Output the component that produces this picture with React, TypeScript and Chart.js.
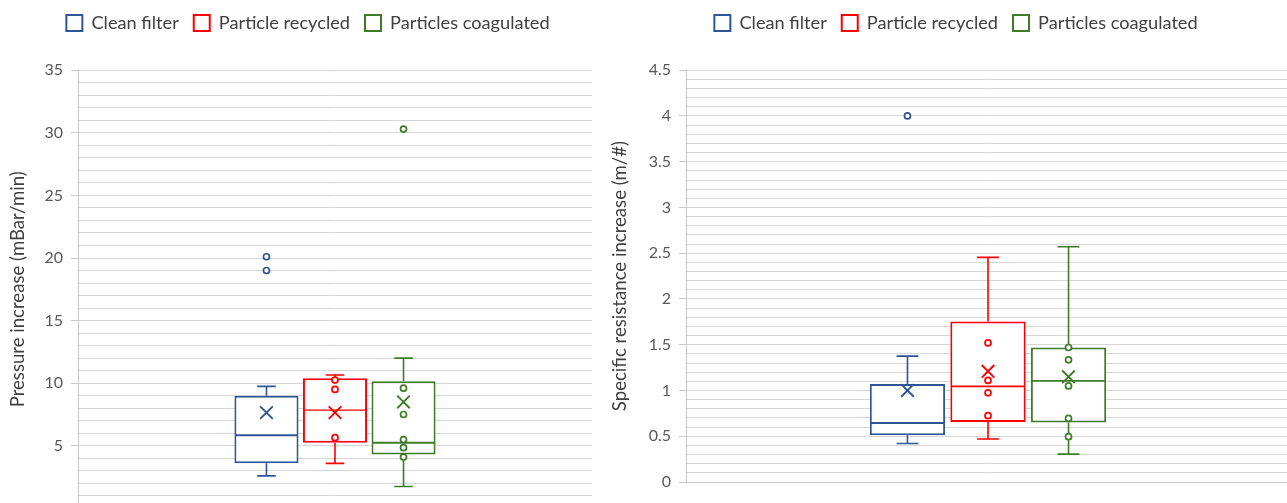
import React, { useEffect, useRef } from 'react';
import { Chart, registerables } from 'chart.js';

Chart.register(...registerables);
Chart.defaults.font.family = 'Lato, "Liberation Sans", sans-serif';

const GROUPS = ['Clean filter', 'Particle recycled', 'Particles coagulated'];
const COLORS = ['#2F5597', '#FF0000', '#3E7C28'];

// Pressure increase (mBar/min): whisker ends, quartiles, median, mean, plotted points
const pressureLow = [2.6, 3.6, 1.75];
const pressureQ1 = [3.6, 5.25, 4.3];
const pressureMedian = [5.85, 7.85, 5.25];
const pressureQ3 = [9.0, 10.4, 10.15];
const pressureHigh = [9.75, 10.65, 12.0];
const pressureMean = [7.65, 7.65, 8.5];
const pressurePoints = [
  [20.1, 19.0],
  [10.25, 9.5, 5.65],
  [30.3, 9.6, 7.5, 5.5, 4.85, 4.1],
];

// Specific resistance increase (m/#)
const resistanceLow = [0.42, 0.47, 0.305];
const resistanceQ1 = [0.51, 0.655, 0.65];
const resistanceMedian = [0.645, 1.045, 1.105];
const resistanceQ3 = [1.07, 1.755, 1.47];
const resistanceHigh = [1.375, 2.455, 2.57];
const resistanceMean = [1.0, 1.21, 1.15];
const resistancePoints = [
  [4.0],
  [1.52, 1.11, 0.975, 0.725],
  [1.47, 1.335, 1.05, 0.695, 0.495],
];

// Axis ranges: minor gridline step and labelled (major) step
const pressureAxis = { min: 0, max: 35, step: 1, major: 5 };
const resistanceAxis = { min: 0, max: 4.5, step: 0.1, major: 0.5 };

type Stats = {
  low: number[];
  q1: number[];
  median: number[];
  q3: number[];
  high: number[];
  mean: number[];
  points: number[][];
};

type Layout = {
  left: number;
  width: number;
  height: number;
  yWidth: number;
  y2Width: number;
  titlePad: number;
  topGap: number;
  xHeight: number;
  medianWidths: number[];
};

function boxDetails(stats: Stats, medianWidths: number[]) {
  return {
    id: 'boxDetails',
    afterDatasetsDraw(chart: any) {
      const { ctx } = chart;
      const yScale = chart.scales.y;
      ctx.save();
      chart.data.datasets.forEach((ds: any, i: number) => {
        const bar = chart.getDatasetMeta(i).data[0];
        if (!bar) return;
        const { x, width } = bar.getProps(['x', 'width'], true);
        const color = ds.borderColor as string;
        const [q1, q3] = ds.data[0] as number[];
        const pLow = yScale.getPixelForValue(stats.low[i]);
        const pHigh = yScale.getPixelForValue(stats.high[i]);
        const pQ1 = yScale.getPixelForValue(q1);
        const pQ3 = yScale.getPixelForValue(q3);
        const pMed = yScale.getPixelForValue(stats.median[i]);
        const cap = width * 0.145;

        ctx.strokeStyle = color;
        ctx.lineCap = 'butt';

        // whiskers with caps
        ctx.lineWidth = 1.6;
        ctx.beginPath();
        ctx.moveTo(x, pQ3);
        ctx.lineTo(x, pHigh);
        ctx.moveTo(x - cap, pHigh);
        ctx.lineTo(x + cap, pHigh);
        ctx.moveTo(x, pQ1);
        ctx.lineTo(x, pLow);
        ctx.moveTo(x - cap, pLow);
        ctx.lineTo(x + cap, pLow);
        ctx.stroke();

        // median line across the box
        ctx.lineWidth = medianWidths[i];
        ctx.beginPath();
        ctx.moveTo(x - width / 2 + 1, pMed);
        ctx.lineTo(x + width / 2 - 1, pMed);
        ctx.stroke();

        // individual points (hollow circles)
        ctx.lineWidth = 1.7;
        ctx.fillStyle = '#ffffff';
        for (const v of stats.points[i]) {
          const py = yScale.getPixelForValue(v);
          ctx.beginPath();
          ctx.arc(x, py, 3, 0, Math.PI * 2);
          ctx.fill();
          ctx.stroke();
        }

        // mean marker (X)
        const pm = yScale.getPixelForValue(stats.mean[i]);
        const r = 6.3;
        ctx.lineWidth = 1.9;
        ctx.beginPath();
        ctx.moveTo(x - r, pm - r);
        ctx.lineTo(x + r, pm + r);
        ctx.moveTo(x + r, pm - r);
        ctx.lineTo(x - r, pm + r);
        ctx.stroke();
      });
      ctx.restore();
    },
  };
}

function BoxPanel(props: {
  title: string;
  stats: Stats;
  axis: { min: number; max: number; step: number; major: number };
  layout: Layout;
}) {
  const ref = useRef<HTMLCanvasElement | null>(null);
  const { title, stats, axis, layout } = props;

  useEffect(() => {
    if (!ref.current) return;
    const isMajor = (v: any) => {
      const n = Number(v) / axis.major;
      return Math.abs(n - Math.round(n)) < 1e-6;
    };
    const chart = new Chart(ref.current, {
      type: 'bar',
      data: {
        labels: [''],
        datasets: GROUPS.map((g, i) => ({
          label: g,
          data: [[stats.q1[i], stats.q3[i]]] as any,
          backgroundColor: '#ffffff',
          borderColor: COLORS[i],
          borderWidth: 2,
          borderSkipped: false,
          categoryPercentage: 0.4,
          barPercentage: 0.935,
          xAxisID: 'x',
          yAxisID: 'y',
        })),
      },
      options: {
        responsive: false,
        animation: false,
        events: [],
        layout: { padding: { top: -1, left: 0, right: 0, bottom: 0 } },
        plugins: {
          legend: {
            position: 'top',
            labels: {
              boxWidth: 16,
              boxHeight: 16,
              padding: 15,
              color: '#404040',
              font: { size: 18.2 },
            },
          },
          tooltip: { enabled: false },
        },
        scales: {
          x: {
            type: 'category',
            position: 'bottom',
            grid: { display: false },
            ticks: { display: false },
            border: { display: true, color: '#c8c8c8' },
            afterFit: (s: any) => {
              s.height = layout.xHeight;
            },
          },
          xTop: {
            type: 'category',
            axis: 'x',
            position: 'top',
            grid: { display: false },
            ticks: { display: false },
            border: { display: false },
            afterFit: (s: any) => {
              s.height = layout.topGap;
            },
          },
          y: {
            type: 'linear',
            position: 'left',
            min: axis.min,
            max: axis.max,
            afterFit: (s: any) => {
              s.width = layout.yWidth;
            },
            ticks: {
              stepSize: axis.step,
              autoSkip: false,
              padding: 8,
              color: '#595959',
              font: { size: 16 },
              callback: (v: any) => (isMajor(v) ? String(Math.round(Number(v) * 10) / 10) : ''),
            },
            grid: {
              color: '#d6d6d6',
              lineWidth: 1,
              tickLength: 7,
              tickColor: (c: any) => (c.tick && isMajor(c.tick.value) ? '#c8c8c8' : 'rgba(0,0,0,0)'),
            },
            border: { display: true, color: '#c8c8c8' },
            title: {
              display: true,
              text: title,
              color: '#404040',
              font: { size: 18.6 },
              padding: { top: layout.titlePad, bottom: 0 },
            },
          },
          y2: {
            type: 'linear',
            axis: 'y',
            position: 'right',
            grid: { display: false },
            ticks: { display: false },
            border: { display: false },
            afterFit: (s: any) => {
              s.width = layout.y2Width;
            },
          },
        },
      } as any,
      plugins: [boxDetails(stats, layout.medianWidths)],
    });
    return () => chart.destroy();
  }, [title, stats, axis, layout]);

  return (
    <canvas
      ref={ref}
      width={layout.width}
      height={layout.height}
      style={{
        position: 'absolute',
        left: layout.left,
        top: 0,
        width: layout.width,
        height: layout.height,
      }}
    />
  );
}

const pressureStats: Stats = {
  low: pressureLow,
  q1: pressureQ1,
  median: pressureMedian,
  q3: pressureQ3,
  high: pressureHigh,
  mean: pressureMean,
  points: pressurePoints,
};

const resistanceStats: Stats = {
  low: resistanceLow,
  q1: resistanceQ1,
  median: resistanceMedian,
  q3: resistanceQ3,
  high: resistanceHigh,
  mean: resistanceMean,
  points: resistancePoints,
};

const leftLayout: Layout = {
  left: 0,
  width: 616,
  height: 526,
  yWidth: 78,
  y2Width: 24,
  titlePad: 6.4,
  topGap: 28,
  xHeight: 10,
  medianWidths: [2, 1.2, 2],
};

const rightLayout: Layout = {
  left: 600,
  width: 712,
  height: 503,
  yWidth: 86,
  y2Width: 22,
  titlePad: 8.9,
  topGap: 28,
  xHeight: 21,
  medianWidths: [1.8, 1.8, 1.8],
};

export default function App() {
  return (
    <div
      style={{
        position: 'fixed',
        left: 0,
        top: 0,
        width: 1287,
        height: 503,
        overflow: 'hidden',
        background: '#ffffff',
      }}
    >
      <BoxPanel
        title="Pressure increase (mBar/min)"
        stats={pressureStats}
        axis={pressureAxis}
        layout={leftLayout}
      />
      <BoxPanel
        title="Specific resistance increase (m/#)"
        stats={resistanceStats}
        axis={resistanceAxis}
        layout={rightLayout}
      />
    </div>
  );
}
